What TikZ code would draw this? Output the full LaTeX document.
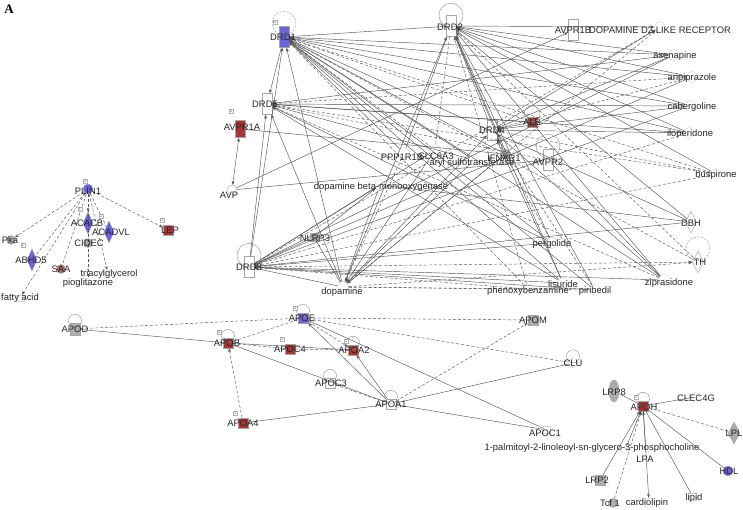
\documentclass[tikz,border=0pt]{standalone}
\usepackage{fontspec}
\setmainfont{Liberation Sans}
\newfontfamily\panelfont{Liberation Serif}
\usetikzlibrary{arrows.meta,shapes.geometric}

\definecolor{upblue}{RGB}{108,98,222}
\definecolor{downred}{RGB}{168,52,52}
\definecolor{molgray}{RGB}{172,172,172}
\definecolor{edgegray}{RGB}{85,85,85}

\begin{document}
\begin{tikzpicture}[x=1pt,y=-1pt]
  \tikzstyle{glyph}=[draw=gray!70, inner sep=0pt, line width=0.4pt]
  \tikzstyle{rbox}=[glyph, rectangle, minimum width=10pt, minimum height=21pt, fill=white]
  \tikzstyle{sq}=[glyph, rectangle, minimum width=10pt, minimum height=10pt]
  \tikzstyle{dmd}=[glyph, diamond, minimum width=11pt, minimum height=22pt, fill=white]
  \tikzstyle{chem}=[circle, draw=gray!35, inner sep=0pt, minimum size=11pt]
  \tikzstyle{lbl}=[inner sep=0pt, font=\fontsize{9.4}{10}\selectfont, text=black!85]
  \tikzstyle{tagbox}=[draw=gray!60, fill=white, inner sep=0.7pt, font=\fontsize{4.5}{5}\selectfont, text=upblue]
  \tikzstyle{link}=[draw=edgegray, line width=0.45pt, -{Stealth[length=4pt,width=3pt]}]
  \tikzstyle{dlink}=[link, dash pattern=on 3pt off 2pt]
  \tikzstyle{plink}=[draw=edgegray, line width=0.45pt]
  \tikzstyle{pdlink}=[plink, dash pattern=on 3pt off 2pt]
  \tikzstyle{selfloop}=[draw=gray!85, line width=0.45pt]
  \tikzstyle{dselfloop}=[selfloop, dash pattern=on 2pt off 1.5pt]

  \useasboundingbox (0,0) rectangle (743,510);
  \node[inner sep=0pt, font=\panelfont\bfseries\fontsize{13}{13}\selectfont] (panelA) at (9,9) {A};

  % lipid droplet cluster
  \node[glyph, circle, fill=upblue, minimum size=10pt] (PLIN1) at (88,189) {};
  \node[glyph, diamond, fill=upblue, minimum width=10pt, minimum height=22pt] (ACACB) at (88,223) {};
  \node[glyph, diamond, fill=upblue, minimum width=10pt, minimum height=22pt] (ACADVL) at (109,232) {};
  \node[glyph, circle, fill=molgray, minimum size=9pt] (CIDEC) at (88,243) {};
  \node[sq, fill=downred] (LEP) at (168,230) {};
  \node[glyph, circle, fill=molgray, minimum size=9pt] (Pka) at (11,240) {};
  \node[glyph, diamond, fill=upblue, minimum width=10pt, minimum height=22pt] (ABHD5) at (32,260) {};
  \node[glyph, circle, fill=downred!55!molgray, minimum size=9pt] (SAA) at (61,269) {};
  \node[chem, minimum size=8pt] (TAG) at (108,274) {};
  \node[chem, minimum size=8pt] (PIO) at (88,282) {};
  \node[chem, rectangle, minimum width=8pt, minimum height=6pt] (FA) at (20,298) {};

  % dopamine receptor network
  \node[rbox, fill=upblue] (DRD1) at (284,37) {};
  \node[rbox] (DRD2) at (451,26) {};
  \node[rbox] (DRD5) at (267,104) {};
  \node[rbox] (DRD3) at (249,267) {};
  \node[rbox, minimum height=20pt] (DRD4) at (492,130) {};
  \node[rbox, fill=downred, minimum height=17pt] (AVPR1A) at (240,129) {};
  \node[rbox] (AVPR1B) at (573,30) {};
  \node[rbox] (AVPR2) at (548,160) {};
  \node[sq, fill=downred] (ALB) at (532,122) {};
  \node[glyph, circle, fill=molgray, minimum size=10pt] (IFNAR1) at (505,154) {};
  \node[sq, fill=molgray, minimum width=8pt, minimum height=8pt] (NLRP3) at (314,237) {};
  \node[glyph, circle, minimum size=10pt, fill=white] (AVP) at (232,190) {};
  \node[chem] (PPP1R1B) at (404,153) {};
  \node[chem] (SLC6A3) at (435,150) {};
  \node[chem] (ARYL) at (474,160) {};
  \node[chem] (DBMO) at (380,185) {};
  \node[chem] (D2LR) at (660,27) {};
  \node[chem] (DA) at (343,287) {};
  \node[chem] (asenapine) at (674,55) {};
  \node[chem] (aripiprazole) at (692,77) {};
  \node[chem] (cabergoline) at (690,106) {};
  \node[chem] (iloperidone) at (689,133) {};
  \node[chem] (buspirone) at (716,174) {};
  \node[dmd] (DBH) at (691,222) {};
  \node[dmd] (TH) at (698,262) {};
  \node[chem] (ziprasidone) at (664,280) {};
  \node[chem] (pergolide) at (552,243) {};
  \node[chem] (lisuride) at (563,283) {};
  \node[chem] (piribedil) at (595,290) {};
  \node[chem] (PBZ) at (528,289) {};

  % apolipoprotein cluster
  \node[sq, fill=molgray, minimum height=12pt] (APOD) at (75,329) {};
  \node[sq, fill=upblue] (APOE) at (303,318) {};
  \node[sq, fill=downred] (APOB) at (228,343) {};
  \node[sq, fill=downred] (APOC4) at (290,349) {};
  \node[sq, fill=downred] (APOA2) at (353,350) {};
  \node[sq, fill=white] (APOC3) at (330,383) {};
  \node[sq, fill=white] (APOA1) at (391,404) {};
  \node[sq, fill=downred] (APOA4) at (243,423) {};
  \node[sq, fill=molgray] (APOM) at (533,320) {};
  \node[chem, minimum size=9pt] (CLU) at (573,363) {};
  \node[chem, rectangle, minimum size=7pt] (APOC1) at (547,430) {};

  \node[sq, fill=downred] (APOH) at (643,406) {};
  \node[glyph, ellipse, fill=molgray, minimum width=10pt, minimum height=22pt] (LRP8) at (614,391) {};
  \node[chem, minimum size=9pt] (CLEC4G) at (695,397) {};
  \node[glyph, diamond, fill=molgray, minimum width=12pt, minimum height=22pt] (LPL) at (734,433) {};
  \node[chem, minimum size=7pt] (PALM) at (625,450) {};
  \node[chem, minimum size=9pt] (LPA) at (646,456) {};
  \node[glyph, circle, fill=upblue, minimum size=10pt] (HDL) at (728,471) {};
  \node[sq, fill=molgray] (LRP2) at (600,480) {};
  \node[glyph, circle, fill=molgray, minimum size=9pt] (TCF) at (613,503) {};
  \node[chem, minimum size=10pt] (CARD) at (649,503) {};
  \node[chem, rectangle, minimum size=7pt] (LIPID) at (693,497) {};

  % connectors
  \foreach \a/\b/\s in {PLIN1/Pka/dlink, PLIN1/ABHD5/pdlink, PLIN1/FA/dlink,
      PLIN1/SAA/pdlink, PLIN1/ACACB/dlink, PLIN1/CIDEC/pdlink, PLIN1/PIO/pdlink,
      PLIN1/TAG/dlink, PLIN1/ACADVL/pdlink, PLIN1/LEP/dlink}
    \draw[\s] (\a) -- (\b);

  \foreach \d/\t in {asenapine/link, aripiprazole/link, cabergoline/link, iloperidone/link,
      buspirone/dlink, ziprasidone/link, pergolide/link, lisuride/link, piribedil/link, PBZ/dlink, DA/link}
    \draw[\t] (\d) -- (DRD1);
  \foreach \d/\t in {asenapine/link, aripiprazole/link, cabergoline/link, iloperidone/link,
      buspirone/link, ziprasidone/link, pergolide/link, lisuride/link, piribedil/link, PBZ/dlink, DA/link}
    \draw[\t] (\d) -- (DRD2);
  \foreach \d/\t in {asenapine/link, aripiprazole/link, cabergoline/link, iloperidone/dlink,
      buspirone/dlink, ziprasidone/link, pergolide/link, lisuride/link, piribedil/link, PBZ/dlink, DA/link, DBH/plink}
    \draw[\t] (\d) -- (DRD3);
  \foreach \d/\t in {asenapine/link, aripiprazole/dlink, cabergoline/link, iloperidone/link,
      buspirone/dlink, ziprasidone/link, pergolide/dlink, lisuride/link, piribedil/dlink, DA/link}
    \draw[\t] (\d) -- (DRD4);
  \foreach \d/\t in {asenapine/link, aripiprazole/dlink, cabergoline/link, iloperidone/link,
      buspirone/dlink, ziprasidone/dlink, pergolide/link, lisuride/link, DA/link, ALB/plink}
    \draw[\t] (\d) -- (DRD5);

  \foreach \a/\b/\s in {DRD1/DRD2/plink, DRD1/DRD5/link, DRD3/DRD1/link, DRD3/DRD5/link,
      DRD2/D2LR/link, DRD4/D2LR/link, DRD3/D2LR/dlink, DA/D2LR/dlink,
      AVP/AVPR1B/link, AVP/AVPR2/link, AVPR1A/IFNAR1/plink, NLRP3/DBMO/link,
      DRD3/NLRP3/plink, DRD1/PPP1R1B/plink, DRD1/SLC6A3/pdlink, DRD1/ARYL/plink,
      DRD1/IFNAR1/plink, DRD2/PPP1R1B/plink, DRD2/SLC6A3/pdlink, DRD2/IFNAR1/plink,
      DRD2/DRD4/plink, DRD2/TH/pdlink, DRD2/DBH/plink, DRD1/TH/pdlink, DRD1/DBH/plink,
      DRD4/ALB/plink, DRD3/DBMO/plink, DRD3/SLC6A3/plink, DA/NLRP3/plink,
      ARYL/DA/link, SLC6A3/DA/link, PPP1R1B/DA/dlink, DBMO/DA/link, IFNAR1/DA/link,
      DA/TH/dlink, DRD3/TH/dlink, DBMO/DBH/plink, DA/PBZ/pdlink, DA/piribedil/pdlink,
      DRD5/ARYL/plink, DRD5/AVPR2/pdlink, DRD1/ALB/pdlink, AVPR2/ziprasidone/plink}
    \draw[\s] (\a) -- (\b);
  \draw[link, {Stealth[length=4pt,width=3pt]}-{Stealth[length=4pt,width=3pt]}] (AVP) -- (AVPR1A);

  \foreach \a/\b/\s in {APOD/APOE/pdlink, APOD/APOB/plink, APOB/APOE/pdlink, APOB/APOA2/plink,
      APOB/APOC4/pdlink, APOC4/APOA2/pdlink, APOB/APOA1/plink, APOA4/APOB/dlink,
      APOA4/APOA1/plink, APOC3/APOA1/pdlink, APOA1/APOE/link, APOA1/APOA2/link,
      APOE/APOA2/dlink, APOE/APOM/pdlink, APOE/CLU/pdlink, APOE/APOC1/plink,
      APOA1/APOM/dlink, APOA1/CLU/plink, APOA1/APOC1/plink}
    \draw[\s] (\a) -- (\b);

  \foreach \a/\b/\s in {LRP8/APOH/plink, CLEC4G/APOH/plink, APOH/LPL/pdlink, APOH/HDL/plink,
      APOH/LIPID/plink, APOH/CARD/link, TCF/APOH/dlink, LRP2/APOH/link,
      PALM/APOH/link, LPA/APOH/link}
    \draw[\s] (\a) -- (\b);

  % self loops
  \draw[dselfloop] ([yshift=3pt]DRD1.north) circle (12pt);
  \draw[selfloop] (DRD2.north) circle (12pt);
  \draw[selfloop] ([yshift=1pt]DRD3.north) circle (12pt);
  \draw[selfloop] ([yshift=3pt]AVPR2.north) circle (12pt);
  \draw[selfloop] ([yshift=3pt]ALB.north) circle (8pt);
  \draw[dselfloop] ([yshift=2pt]TH.north) circle (12pt);
  \foreach \g in {APOD, APOE, APOB, APOA2, APOC3, APOA1, CLU, APOH}
    \draw[selfloop] ([yshift=2pt]\g.north) circle (6.5pt);

  % labels
  \foreach \n/\p/\t in {PLIN1/{(88,191)}/PLIN1, ACACB/{(87,223)}/ACACB, ACADVL/{(111,232)}/ACADVL,
      CIDEC/{(89,243)}/CIDEC, LEP/{(170,230)}/LEP, Pka/{(10,240)}/Pka, ABHD5/{(31,260)}/ABHD5,
      SAA/{(61,269)}/SAA, TAG/{(109,274)}/triacylglycerol, PIO/{(88,283)}/pioglitazone,
      FA/{(20,298)}/fatty acid,
      DRD1/{(283,37)}/DRD1, DRD2/{(450,27)}/DRD2, DRD5/{(265,104)}/DRD5, AVPR1A/{(242,127)}/AVPR1A,
      AVP/{(229,195)}/AVP, DRD3/{(249,267)}/DRD3, NLRP3/{(315,238)}/NLRP3, DA/{(342,292)}/dopamine,
      DBMO/{(381,187)}/dopamine beta-monooxygenase, PPP1R1B/{(402,157)}/PPP1R1B,
      SLC6A3/{(436,156)}/SLC6A3, ARYL/{(472,163)}/aryl sulfotransferase, IFNAR1/{(504,158)}/IFNAR1,
      AVPR2/{(548,162)}/AVPR2, DRD4/{(492,130)}/DRD4, ALB/{(532,122)}/ALB, AVPR1B/{(573,30)}/AVPR1B,
      D2LR/{(660,30)}/DOPAMINE D2 LIKE RECEPTOR, asenapine/{(675,56)}/asenapine,
      aripiprazole/{(692,78)}/aripiprazole, cabergoline/{(692,107)}/cabergoline,
      iloperidone/{(690,134)}/iloperidone, buspirone/{(716,175)}/buspirone, DBH/{(691,223)}/DBH,
      TH/{(700,262)}/TH, ziprasidone/{(669,283)}/ziprasidone, pergolide/{(552,244)}/pergolide,
      lisuride/{(563,284)}/lisuride, piribedil/{(595,291)}/piribedil, PBZ/{(528,291)}/phenoxybenzamine,
      APOD/{(75,329)}/APOD, APOE/{(302,318)}/APOE, APOB/{(227,343)}/APOB, APOC4/{(290,349)}/APOC4,
      APOA2/{(354,350)}/APOA2, APOC3/{(331,383)}/APOC3, APOA1/{(391,404)}/APOA1,
      APOA4/{(243,423)}/APOA4, APOM/{(533,320)}/APOM, CLU/{(573,363)}/CLU, APOC1/{(545,433)}/APOC1,
      LRP8/{(614,392)}/LRP8, APOH/{(644,407)}/APOH, CLEC4G/{(696,398)}/CLEC4G, LPL/{(734,433)}/LPL,
      PALM/{(592,448)}/1-palmitoyl-2-linoleoyl-sn-glycero-3-phosphocholine, LPA/{(645,459)}/LPA,
      HDL/{(729,471)}/HDL, LRP2/{(597,480)}/LRP2, TCF/{(610,503)}/Tcf 1/3/4,
      CARD/{(647,503)}/cardiolipin, LIPID/{(694,498)}/lipid}
    \node[lbl] (\n-l) at \p {\t};

  % the small "1" boxes
  \foreach \n/\p in {PLIN1/{(85,181)}, ACACB/{(80,209)}, ACADVL/{(101,216)}, LEP/{(162,220)},
      ABHD5/{(23,245)}, DRD1/{(275,22)}, AVPR1A/{(231,111)}, APOE/{(295,308)}, APOB/{(219,332)},
      APOC4/{(282,339)}, APOA2/{(346,341)}, APOA4/{(235,413)}, APOH/{(636,397)}}
    \node[tagbox] (\n-t) at \p {1};
\end{tikzpicture}
\end{document}
